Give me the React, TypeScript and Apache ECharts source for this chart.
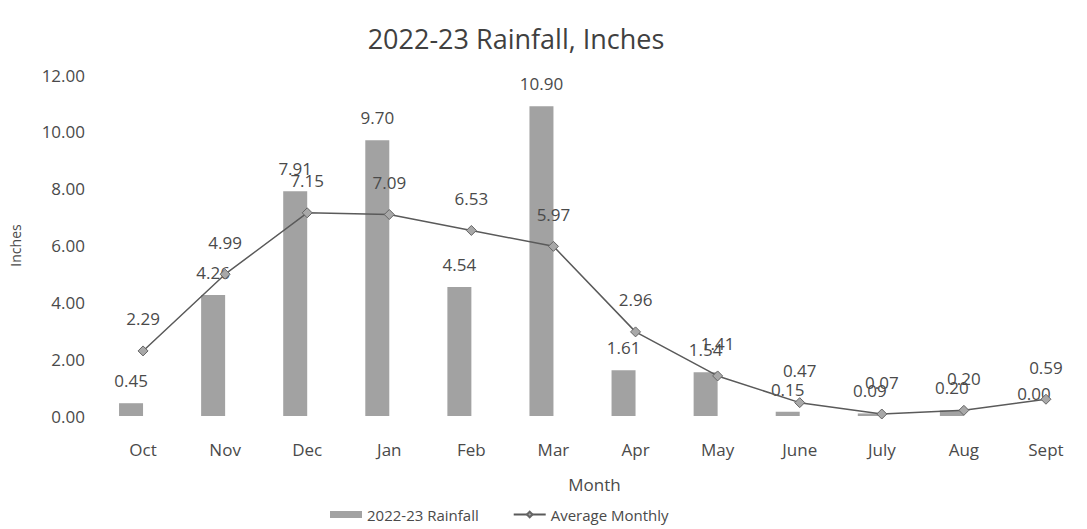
import React, { useEffect, useRef } from "react";
import * as echarts from "echarts";

const months = ["Oct", "Nov", "Dec", "Jan", "Feb", "Mar", "Apr", "May", "June", "July", "Aug", "Sept"];
const rainfall = [0.45, 4.26, 7.91, 9.7, 4.54, 10.9, 1.61, 1.54, 0.15, 0.09, 0.2, 0.0];
const averageMonthly = [2.29, 4.99, 7.15, 7.09, 6.53, 5.97, 2.96, 1.41, 0.47, 0.07, 0.2, 0.59];
const emptySeries = months.map(() => null);

const FONT = "'Open Sans', 'Noto Sans', sans-serif";
const TEXT = "#4a4a4a";

export default function App() {
  const ref = useRef<HTMLDivElement>(null);
  useEffect(() => {
    if (!ref.current) return;
    const chart = echarts.init(ref.current, undefined, { renderer: "svg" });
    chart.setOption({
      animation: false,
      backgroundColor: "#ffffff",
      textStyle: { fontFamily: FONT },
      title: {
        text: "2022-23 Rainfall, Inches",
        left: 511,
        textAlign: "center",
        top: 20,
        textStyle: { fontFamily: FONT, fontSize: 27, fontWeight: "normal", color: "#404040" },
      },
      legend: {
        data: [
          { name: "2022-23 Rainfall", icon: "rect" },
          { name: "Average Monthly" },
        ],
        left: 325,
        top: 502,
        itemWidth: 32,
        itemHeight: 7,
        itemGap: 34,
        textStyle: { fontFamily: FONT, fontSize: 15, color: TEXT },
      },
      grid: { left: 95, top: 75, width: 1008, height: 341 },
      xAxis: {
        type: "category",
        data: months,
        name: "Month",
        nameLocation: "middle",
        nameGap: 60,
        nameTextStyle: { fontFamily: FONT, fontSize: 17, color: TEXT },
        axisLine: { show: false },
        axisTick: { show: false },
        axisLabel: { margin: 25, fontFamily: FONT, fontSize: 17, color: TEXT },
      },
      yAxis: {
        type: "value",
        min: 0,
        max: 12,
        interval: 2,
        name: "Inches",
        nameLocation: "middle",
        nameGap: 80,
        nameTextStyle: { fontFamily: FONT, fontSize: 14, color: TEXT },
        axisLine: { show: false },
        axisTick: { show: false },
        splitLine: { show: false },
        axisLabel: {
          margin: 17,
          fontFamily: FONT,
          fontSize: 17,
          color: TEXT,
          formatter: (v: number) => v.toFixed(2),
        },
      },
      series: [
        {
          name: "2022-23 Rainfall",
          type: "bar",
          data: rainfall,
          barWidth: 24,
          barGap: "0%",
          itemStyle: { color: "#a2a2a2" },
          label: {
            show: true,
            position: "top",
            distance: 14,
            fontFamily: FONT,
            fontSize: 17,
            color: TEXT,
            formatter: (p: any) => Number(p.value).toFixed(2),
          },
        },
        {
          name: "__gap",
          type: "bar",
          data: emptySeries,
          barWidth: 24,
          itemStyle: { color: "transparent" },
        },
        {
          name: "Average Monthly",
          type: "line",
          data: averageMonthly,
          symbol: "diamond",
          symbolSize: 10,
          lineStyle: { color: "#5a5a5a", width: 1.5 },
          itemStyle: { color: "#a8a8a8", borderColor: "#666", borderWidth: 1 },
          label: {
            show: true,
            position: "top",
            distance: 18,
            fontFamily: FONT,
            fontSize: 17,
            color: TEXT,
            formatter: (p: any) => Number(p.value).toFixed(2),
          },
        },
      ],
    });
    return () => chart.dispose();
  }, []);
  return <div ref={ref} style={{ width: 1087, height: 529, position: "absolute", left: 0, top: 0 }} />;
}
